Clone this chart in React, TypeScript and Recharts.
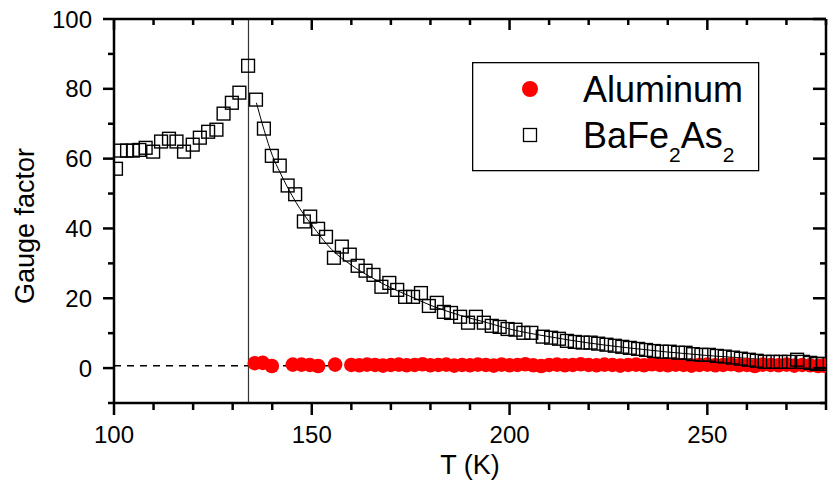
import {
  ComposedChart,
  Scatter,
  Line,
  XAxis,
  YAxis,
  ReferenceLine,
  Legend,
} from "recharts";

// T (K), gauge factor
const bafeTemps = [
  100.5, 101.7, 103.3, 104.8, 106.4, 108, 109.9, 111.9, 113.9, 115.8, 117.7,
  119.9, 121.7, 123.8, 125.9, 127.7, 129.8, 131.7, 133.9, 135.9, 137.9, 139.9,
  141.9, 143.9, 145.8, 148, 149.6, 151.6, 153.6, 155.6, 157.6, 159.6, 161.6,
  163.6, 165.6, 167.6, 169.6, 171.6, 173.6, 175.6, 177.6, 179.6, 181.6, 183.4,
  185.2, 187.5, 189.5, 191.5, 193.5, 195.5, 197.5, 199.5, 201.5, 203.5, 205.5,
  208.4, 210.5, 212.5, 214.5, 216.5, 218.5, 220.5, 222.4, 224.5, 226.6, 228.5,
  230.4, 232.5, 234.5, 236.5, 238.5, 240.5, 242.6, 244.5, 246.4, 248.5, 250.4,
  252.4, 254.4, 256.5, 258.5, 260.5, 262.5, 264.5, 266.6, 268.5, 270.6, 272.7,
  274.2, 276, 277.7, 279.2,
];
const bafeGauge = [
  57.1, 62.3, 62.3, 62.3, 62.5, 63.1, 62, 64.9, 65.7, 64.9, 62, 64, 66, 67.7,
  68.3, 72.9, 76, 78.9, 86.6, 76.9, 68.6, 60.8, 58, 52.3, 49.8, 42, 43.4, 39.9,
  37.6, 31.6, 34.8, 32.5, 29.3, 27.9, 26.7, 23.3, 24.4, 22.4, 20.4, 20.4, 21.5,
  17.8, 18.7, 16.1, 15.8, 14.7, 13, 14.7, 13, 12.1, 11.8, 11.2, 11, 10.1, 10.1,
  9, 8.7, 8.4, 7.8, 7.5, 7.3, 7.3, 7, 6.7, 6.4, 6.1, 5.8, 5.5, 5.2, 4.9, 4.7,
  4.7, 4.4, 4.4, 4, 3.8, 3.8, 3.5, 3.3, 3, 2.7, 2.4, 2.1, 1.8, 1.8, 1.8, 1.8,
  2.4, 1.8, 1.5, 1.2, 1.2,
];

const alTemps = [
  135.6, 137.6, 139.9, 145.2, 147.4, 149.5, 151.6, 155.9, 160, 162, 164, 166,
  168, 170, 172, 174, 176, 178, 180, 182, 184, 186, 188, 190, 192, 194, 196,
  198, 200, 202, 204, 206, 208, 210, 212, 214, 216, 218, 220, 222, 224, 226,
  228, 230, 232, 234, 236, 238, 240, 242, 244, 246, 248, 250, 252, 254, 256,
  258, 260, 262, 264, 266, 268, 270, 272, 274, 276, 278, 279.5,
];
const alGauge = [
  1.4, 1.5, 0.6, 1.0, 1.0, 0.9, 0.6, 1.0, 0.9, 0.8, 1.0, 0.9, 0.7, 0.9, 1.0,
  0.8, 0.9, 1.1, 0.8, 0.9, 1.0, 0.7, 0.9, 0.8, 1.0, 0.9, 0.7, 1.0, 0.8, 0.9,
  1.1, 0.8, 0.6, 0.9, 1.0, 0.8, 0.9, 1.1, 0.9, 0.8, 1.0, 0.9, 0.7, 0.9, 1.0,
  0.8, 1.1, 0.9, 0.8, 1.0, 0.9, 0.7, 0.9, 1.0, 0.8, 0.9, 1.1, 0.8, 0.9, 0.6,
  1.0, 0.9, 0.8, 1.0, 0.7, 0.9, 0.8, 0.6, 0.7,
];

// fitted curve
const fitTemps = [
  136, 138, 140, 142, 144, 146, 148, 150, 155, 160, 165, 170, 175, 180, 185,
  190, 195, 200, 210, 220, 230, 240, 250, 260, 270, 280,
];
const fitGauge = [
  76, 68, 61, 56, 51.5, 47.5, 44, 41, 34, 29.5, 26, 23, 20.5, 18, 16, 14.3,
  12.8, 11.2, 9, 7.2, 5.8, 4.6, 3.6, 2.8, 2, 1.3,
];

const xTicks = [
  100, 110, 120, 130, 140, 150, 160, 170, 180, 190, 200, 210, 220, 230, 240,
  250, 260, 270, 280,
];
const yTicks = [-10, 0, 10, 20, 30, 40, 50, 60, 70, 80, 90, 100];
const transitionT = 134;
const baselineGauge = 0.7;

const bafeData = bafeTemps.map((t, i) => ({ t, g: bafeGauge[i] }));
const alData = alTemps.map((t, i) => ({ t, g: alGauge[i] }));
const fitData = fitTemps.map((t, i) => ({ t, g: fitGauge[i] }));

const FONT = "'Liberation Sans', Arial, sans-serif";
const AX = 2.5;

const BottomTick = (props: any) => {
  const { x, y, payload } = props;
  const major = payload.value % 50 === 0;
  return (
    <g>
      <line x1={x} x2={x} y1={y} y2={y + (major ? 12 : 7)} stroke="#000" strokeWidth={AX} />
      {major && (
        <text x={x} y={y + 40} textAnchor="middle" fontSize={24} fontFamily={FONT} fill="#000">
          {payload.value}
        </text>
      )}
    </g>
  );
};

const TopTick = (props: any) => {
  const { x, y, payload } = props;
  const major = payload.value % 50 === 0;
  return <line x1={x} x2={x} y1={y} y2={y + (major ? 11 : 6)} stroke="#000" strokeWidth={AX} />;
};

const LeftTick = (props: any) => {
  const { x, y, payload } = props;
  const major = payload.value % 20 === 0;
  return (
    <g>
      <line x1={x} x2={x - (major ? 11 : 6)} y1={y} y2={y} stroke="#000" strokeWidth={AX} />
      {major && (
        <text x={x - 22} y={y + 8.5} textAnchor="end" fontSize={24} fontFamily={FONT} fill="#000">
          {payload.value}
        </text>
      )}
    </g>
  );
};

const RightTick = (props: any) => {
  const { x, y, payload } = props;
  const major = payload.value % 20 === 0;
  return <line x1={x} x2={x - (major ? 13 : 6)} y1={y} y2={y} stroke="#000" strokeWidth={AX} />;
};

const RedDot = (props: any) => (
  <circle cx={props.cx} cy={props.cy} r={7.3} fill="#ff0000" />
);

const OpenSquare = (props: any) => (
  <rect
    x={props.cx - 6.4}
    y={props.cy - 6.4}
    width={12.8}
    height={12.8}
    fill="none"
    stroke="#000"
    strokeWidth={1.4}
  />
);

const LegendBox = () => (
  <svg width={288} height={110} style={{ display: "block" }}>
    <rect x={0.65} y={0.65} width={286} height={108} fill="#fff" stroke="#000" strokeWidth={1.3} />
    <circle cx={58} cy={27} r={8} fill="#ff0000" />
    <rect x={51.5} y={66.5} width={13} height={13} fill="none" stroke="#000" strokeWidth={1.3} />
    <text x={111} y={40} fontSize={36} fontFamily={FONT} fill="#000">
      Aluminum
    </text>
    <text x={111} y={86} fontSize={36} fontFamily={FONT} fill="#000">
      BaFe
      <tspan fontSize={21} dy={14}>2</tspan>
      <tspan dy={-14}>As</tspan>
      <tspan fontSize={21} dy={14}>2</tspan>
    </text>
  </svg>
);

const YTitle = () => (
  <text
    x={34}
    y={226}
    transform="rotate(-90, 34, 226)"
    textAnchor="middle"
    fontSize={27}
    fontFamily={FONT}
    fill="#000"
  >
    Gauge factor
  </text>
);

const XTitle = (props: any) => {
  const vb = props.viewBox;
  return (
    <text
      x={vb.x + vb.width / 2}
      y={vb.y + vb.height - 14}
      textAnchor="middle"
      fontSize={27}
      fontFamily={FONT}
      fill="#000"
    >
      T (K)
    </text>
  );
};

export default function App() {
  return (
    <div style={{ position: "absolute", left: 0, top: 0, background: "#fff" }}>
      <ComposedChart
        width={832}
        height={488}
        margin={{ top: 0, right: 0, bottom: 0, left: 0 }}
      >
        <XAxis
          dataKey="t"
          type="number"
          domain={[100, 280]}
          ticks={xTicks}
          interval={0}
          allowDataOverflow
          height={85}
          tickSize={0}
          tickMargin={0}
          tickLine={false}
          tick={<BottomTick />}
          axisLine={{ stroke: "#000", strokeWidth: AX }}
          label={<XTitle />}
        />
        <XAxis
          xAxisId="top"
          orientation="top"
          dataKey="t"
          type="number"
          domain={[100, 280]}
          ticks={xTicks}
          interval={0}
          allowDataOverflow
          height={19}
          tickSize={0}
          tickMargin={0}
          tickLine={false}
          tick={<TopTick />}
          axisLine={{ stroke: "#000", strokeWidth: AX }}
        />
        <YAxis
          dataKey="g"
          type="number"
          domain={[-10, 100]}
          ticks={yTicks}
          interval={0}
          allowDataOverflow
          width={114}
          tickSize={0}
          tickMargin={0}
          tickLine={false}
          tick={<LeftTick />}
          axisLine={{ stroke: "#000", strokeWidth: AX }}
          label={<YTitle />}
        />
        <YAxis
          yAxisId="right"
          orientation="right"
          dataKey="g"
          type="number"
          domain={[-10, 100]}
          ticks={yTicks}
          interval={0}
          allowDataOverflow
          width={6}
          tickSize={0}
          tickMargin={0}
          tickLine={false}
          tick={<RightTick />}
          axisLine={{ stroke: "#000", strokeWidth: AX }}
        />
        <Scatter
          name="Aluminum"
          data={alData}
          dataKey="g"
          shape={RedDot}
          isAnimationActive={false}
        />
        <ReferenceLine
          y={baselineGauge}
          stroke="#000"
          strokeWidth={1.5}
          strokeDasharray="7 6"
        />
        <ReferenceLine x={transitionT} stroke="#333" strokeWidth={1.2} />
        <Scatter
          name="BaFe2As2"
          data={bafeData}
          dataKey="g"
          shape={OpenSquare}
          isAnimationActive={false}
        />
        <Line
          data={fitData}
          dataKey="g"
          type="monotone"
          stroke="#000"
          strokeWidth={1}
          dot={false}
          activeDot={false}
          isAnimationActive={false}
        />
        <Legend
          content={LegendBox}
          layout="horizontal"
          verticalAlign="middle"
          align="center"
          wrapperStyle={{ position: "absolute", left: 472, top: 62, width: 288, height: 110 }}
        />
      </ComposedChart>
    </div>
  );
}
